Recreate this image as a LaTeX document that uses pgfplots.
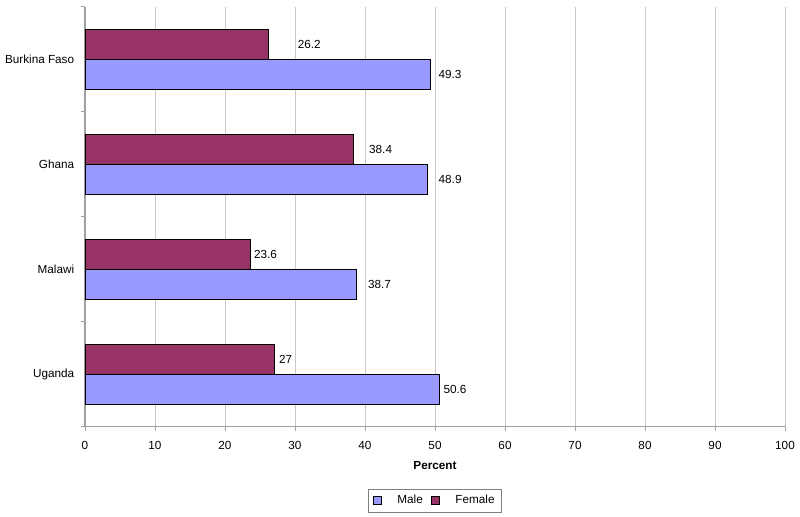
\documentclass[border=0pt]{standalone}
\usepackage{pgfplots}
\pgfplotsset{compat=1.18}
\usepackage{pgfplotstable}
\usepackage{fontspec}
\setmainfont{Liberation Sans}

\definecolor{male}{HTML}{9999FF}
\definecolor{female}{HTML}{993366}
\definecolor{gridgray}{HTML}{C8C8C8}
\definecolor{axisgray}{HTML}{A0A0A0}

\newcommand{\lblfont}{\fontsize{8.8}{10.5}\selectfont}

% y: 3 = Burkina Faso ... 0 = Uganda; off = label gap in pt
\pgfplotstableread{
y x off
3 49.3 6
2 48.9 8.25
1 38.7 8.8
0 50.6 3
}\maletable
\pgfplotstableread{
y x off
3 26.2 21.75
2 38.4 11.25
1 23.6 2.6
0 27 3.5
}\femaletable

\begin{document}
\begin{tikzpicture}
\begin{axis}[
    /pgf/number format/assume math mode=true,
    scale only axis,
    width=525pt, height=315pt,
    xmin=0, xmax=100,
    ymin=-0.5, ymax=3.5,
    xbar, bar width=0.285,
    axis x line*=bottom, axis y line*=left,
    axis line style={axisgray, line width=1pt},
    xtick={0,10,...,100},
    ytick={0,1,2,3},
    yticklabels={Uganda,Malawi,Ghana,Burkina Faso},
    minor ytick={-0.5,0.5,1.5,2.5,3.5},
    tick align=outside,
    major tick length=3pt, minor tick length=3pt,
    x tick style={axisgray, line width=0.6pt},
    major y tick style={draw=none},
    minor y tick style={axisgray, line width=0.6pt},
    xmajorgrids,
    major grid style={gridgray, line width=0.6pt},
    tick label style={font=\lblfont, text=black},
    xticklabel style={yshift=-4.5pt},
    yticklabel style={xshift=-1.6pt},
    xlabel={Percent},
    xlabel style={font=\lblfont\bfseries, at={(axis description cs:0.5,-0.093)}, anchor=center},
    legend columns=2,
    legend style={at={(0.5,-0.176)}, anchor=center, draw=gray, line width=0.5pt,
        font=\lblfont, inner xsep=3pt, inner ysep=2.5pt,
        /tikz/every odd column/.append style={column sep=10pt},
        /tikz/every even column/.append style={column sep=4pt}},
]
\addplot[fill=male, draw=black, line width=0.6pt, bar shift=-0.1425,
    point meta=x, nodes near coords,
    visualization depends on={\thisrow{off}\as\off},
    every node near coord/.append style={anchor=west, inner sep=0pt, xshift=\off*1pt, font=\lblfont, text=black},
    legend image code/.code={\draw[fill=male, draw=black, line width=0.5pt] (0pt,-3pt) rectangle (6pt,3pt);}]
    table[x=x, y=y] {\maletable};
\addlegendentry{Male}
\addplot[fill=female, draw=black, line width=0.6pt, bar shift=0.1425,
    point meta=x, nodes near coords,
    visualization depends on={\thisrow{off}\as\off},
    every node near coord/.append style={anchor=west, inner sep=0pt, xshift=\off*1pt, font=\lblfont, text=black},
    legend image code/.code={\draw[fill=female, draw=black, line width=0.5pt] (0pt,-3pt) rectangle (6pt,3pt);}]
    table[x=x, y=y] {\femaletable};
\addlegendentry{Female}
\end{axis}
\pgfresetboundingbox
\path[use as bounding box] ([xshift=-63.75pt, yshift=-67.5pt]current axis.south west)
    rectangle ([xshift=11.25pt, yshift=5.1pt]current axis.north east);
\end{tikzpicture}
\end{document}
